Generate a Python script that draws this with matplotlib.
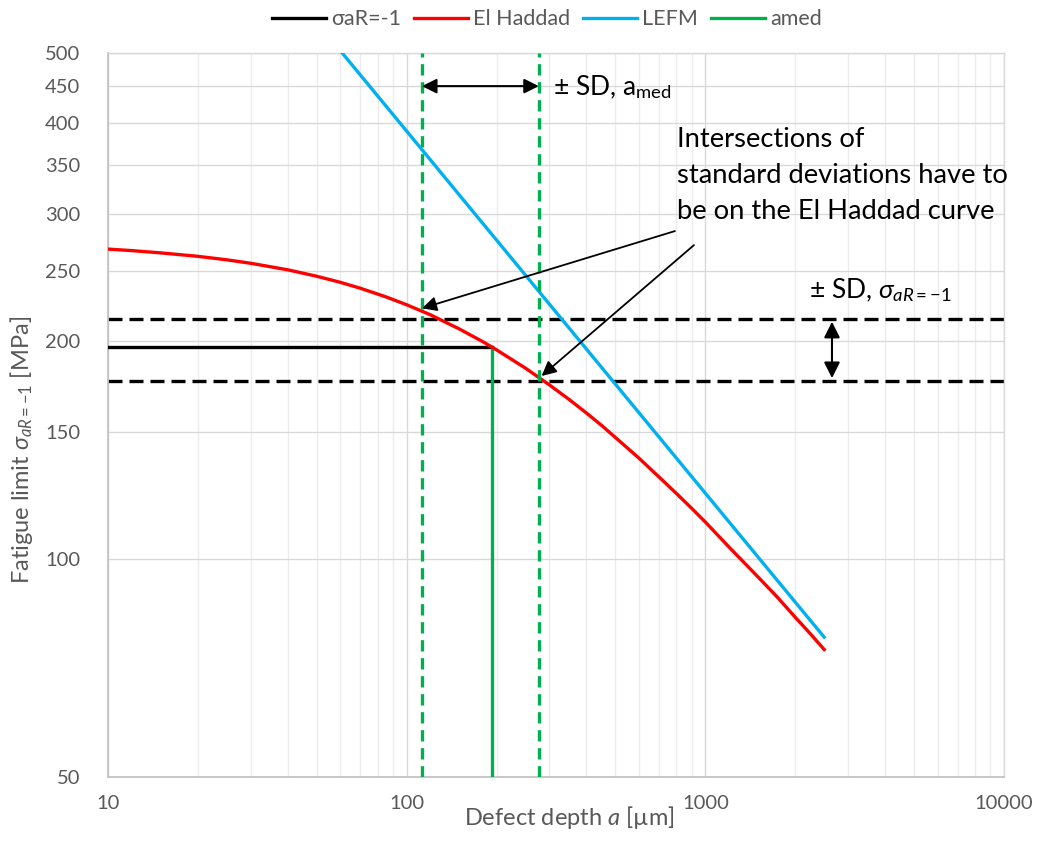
import numpy as np
import matplotlib
matplotlib.use("Agg")
import matplotlib.pyplot as plt
from matplotlib.ticker import FixedLocator, NullFormatter, NullLocator

plt.rcParams['font.family'] = ['Lato', 'DejaVu Sans']
plt.rcParams['mathtext.fontset'] = 'custom'
plt.rcParams['mathtext.rm'] = 'Lato'
plt.rcParams['mathtext.it'] = 'Lato:italic'
plt.rcParams['mathtext.fallback'] = 'stixsans'

GRAY = "#595959"

# El Haddad curve
a_eh = [10, 12, 15, 20, 25, 30, 40, 50, 60, 70, 85, 100, 120, 150, 180, 200,
        250, 300, 350, 400, 450, 500, 600, 700, 800, 900, 1000, 1200, 1500,
        1750, 2000, 2250, 2500]
s_eh = [268.0, 266.7, 264.8, 261.9, 259.0, 256.2, 250.9, 245.8, 241.1, 236.6,
        230.3, 224.5, 217.5, 207.9, 199.6, 194.5, 183.5, 174.1, 166.1, 159.1,
        152.9, 147.2, 137.8, 129.8, 123.2, 117.5, 112.5, 103.9, 94.5,
        88.4, 83.1, 78.8, 75.0]

# LEFM line (clipped at the top of the axes)
a_lefm = [10, 100, 1000, 2500]
s_lefm = [1233.0, 390.0, 123.3, 78.0]

# median fatigue limit and median defect depth
sigma_med = 196.0
a_med = 193.0
# standard deviation bands
sigma_sd = [214.6, 176.2]
a_sd = [112.5, 277.0]

xticks = [10, 100, 1000, 10000]
yticks = [50, 100, 150, 200, 250, 300, 350, 400, 450, 500]

fig = plt.figure(figsize=(10.41, 8.41), dpi=100)
ax = fig.add_axes([108 / 1041, 1 - 777 / 841, (1004 - 108) / 1041, (777 - 53) / 841])
ax.set_xscale("log")
ax.set_yscale("log")
ax.set_xlim(10, 10000)
ax.set_ylim(50, 500)

# grid
ax.xaxis.set_major_locator(FixedLocator(xticks))
ax.xaxis.set_minor_locator(FixedLocator([m * 10 ** e for e in range(1, 4) for m in range(2, 10)]))
ax.xaxis.set_minor_formatter(NullFormatter())
ax.yaxis.set_major_locator(FixedLocator(yticks))
ax.yaxis.set_minor_locator(NullLocator())
ax.set_xticklabels([str(t) for t in xticks])
ax.set_yticklabels([str(t) for t in yticks])
ax.grid(which="major", axis="both", color="#d9d9d9", lw=1.0, zorder=0)
ax.grid(which="minor", axis="x", color="#ececec", lw=1.0, zorder=0)
ax.set_axisbelow(True)
ax.tick_params(which="both", length=0, labelsize=14.5, labelcolor=GRAY)
ax.tick_params(axis="x", pad=13)
ax.tick_params(axis="y", pad=20)
for side in ["left", "bottom"]:
    ax.spines[side].set_color("#bfbfbf")
    ax.spines[side].set_linewidth(1.2)
for side in ["top", "right"]:
    ax.spines[side].set_color("#d9d9d9")
    ax.spines[side].set_linewidth(1.0)

# series
ax.plot([10, a_med], [sigma_med, sigma_med], color="black", lw=2.4, label="σaR=-1", zorder=4)
ax.plot(a_eh, s_eh, color="#ff0000", lw=2.4, label="El Haddad", zorder=5)
ax.plot(a_lefm, s_lefm, color="#00b0f0", lw=2.4, label="LEFM", zorder=3)
ax.plot([a_med, a_med], [50, sigma_med], color="#00b050", lw=2.4, label="amed", zorder=4)

# SD bands
for s in sigma_sd:
    ax.axhline(s, color="black", lw=2.4, ls=(0, (4.2, 2.1)), zorder=2)
for a in a_sd:
    ax.axvline(a, color="#00b050", lw=2.4, ls=(0, (3.4, 2.0)), zorder=6)

# annotations
ax.annotate("", xy=(a_sd[0], 450), xytext=(a_sd[1], 450),
            arrowprops=dict(arrowstyle="<|-|>", color="black", lw=1.5,
                            mutation_scale=22, shrinkA=0, shrinkB=0), zorder=7)
ax.text(310, 448, "± SD, a$_{\\mathrm{med}}$", fontsize=19, ha="left", va="center", color="black")

ax.annotate("", xy=(2655, sigma_sd[0]), xytext=(2655, sigma_sd[1]),
            arrowprops=dict(arrowstyle="<|-|>", color="black", lw=1.5,
                            mutation_scale=24, shrinkA=2, shrinkB=2), zorder=7)
ax.text(2230, 235, "± SD, $\\sigma_{\\mathit{aR{=}{-}1}}$", fontsize=19, ha="left",
        va="center", color="black")

ax.text(803, 395, "Intersections of\nstandard deviations have to\nbe on the El Haddad curve",
        fontsize=19.7, ha="left", va="top", color="black", linespacing=1.55)
ax.annotate("", xy=(112.5, 222), xytext=(791, 283.8),
            arrowprops=dict(arrowstyle="-|>", color="black", lw=1.3,
                            mutation_scale=22, shrinkA=0, shrinkB=0), zorder=7)
ax.annotate("", xy=(283, 179), xytext=(916, 271.4),
            arrowprops=dict(arrowstyle="-|>", color="black", lw=1.3,
                            mutation_scale=22, shrinkA=0, shrinkB=0), zorder=7)

ax.set_xlabel("Defect depth $a$ [µm]", fontsize=17, color=GRAY)
ax.xaxis.set_label_coords(0.5145, -0.037)
ax.set_ylabel("Fatigue limit $\\sigma_{\\mathit{aR{=}{-}1}}$ [MPa]", fontsize=17, color=GRAY)
ax.yaxis.set_label_coords(-0.0815, 0.4517)

fig.legend(loc="upper center", bbox_to_anchor=(0.5255, 1.012), ncol=4, frameon=False,
           fontsize=15.5, labelcolor=GRAY, handlelength=2.5, columnspacing=0.6, handletextpad=0.25)

fig.savefig("out.png", dpi=100)
